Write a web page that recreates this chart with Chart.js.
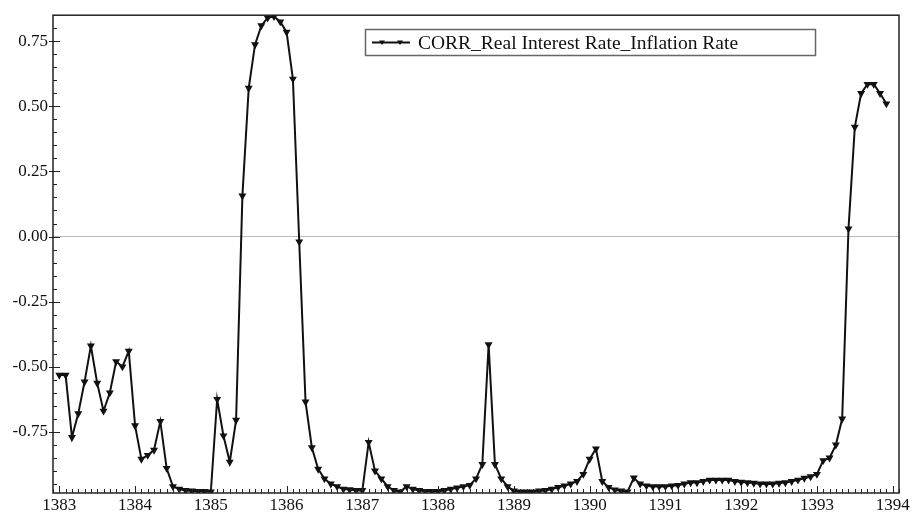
<!DOCTYPE html>
<html>
<head>
<meta charset="utf-8">
<script src="https://cdn.jsdelivr.net/npm/chart.js@4"></script>
<style>
  html, body { margin: 0; padding: 0; background: #fff; }
  canvas { display: block; }
</style>
</head>
<body>
<canvas id="corr" width="912" height="518"></canvas>
<script>
// monthly series, starting 1383 month 1
const startYear = 1383;
const seriesName = 'CORR_Real Interest Rate_Inflation Rate';
const corr = [
  // 1383
  -0.532, -0.532, -0.771, -0.680, -0.558, -0.420, -0.563, -0.670, -0.600, -0.480, -0.500, -0.440,
  // 1384
  -0.726, -0.855, -0.840, -0.820, -0.710, -0.890, -0.960, -0.970, -0.975, -0.977, -0.978, -0.978,
  // 1385
  -0.980, -0.625, -0.765, -0.866, -0.705, 0.156, 0.570, 0.737, 0.810, 0.840, 0.845, 0.825,
  // 1386
  0.785, 0.605, -0.020, -0.635, -0.810, -0.893, -0.930, -0.950, -0.960, -0.970, -0.972, -0.975,
  // 1387
  -0.975, -0.790, -0.900, -0.930, -0.960, -0.975, -0.980, -0.960, -0.970, -0.975, -0.978, -0.978,
  // 1388
  -0.978, -0.975, -0.970, -0.965, -0.960, -0.955, -0.930, -0.875, -0.415, -0.875, -0.930, -0.960,
  // 1389
  -0.977, -0.980, -0.980, -0.980, -0.977, -0.975, -0.970, -0.963, -0.957, -0.950, -0.940, -0.913,
  // 1390
  -0.855, -0.815, -0.940, -0.963, -0.973, -0.977, -0.980, -0.927, -0.950, -0.957, -0.960, -0.960,
  // 1391
  -0.960, -0.957, -0.955, -0.950, -0.945, -0.945, -0.940, -0.935, -0.935, -0.935, -0.935, -0.940,
  // 1392
  -0.943, -0.945, -0.947, -0.950, -0.950, -0.950, -0.947, -0.945, -0.940, -0.935, -0.928, -0.922,
  // 1393
  -0.913, -0.860, -0.850, -0.800, -0.700, 0.030, 0.420, 0.550, 0.585, 0.585, 0.550, 0.510
];
// tick labels
const yearTicks = [1383, 1384, 1385, 1386, 1387, 1388, 1389, 1390, 1391, 1392, 1393, 1394];
const valueTicks = [-0.75, -0.50, -0.25, 0.00, 0.25, 0.50, 0.75];

const serif = '"Liberation Serif", "DejaVu Serif", serif';

// points on a time axis measured in years
const points = corr.map((v, i) => ({ x: startYear + i / 12, y: v }));

// frame, minor ticks and the boxed legend
const framePlugin = {
  id: 'frame',
  afterDraw(chart) {
    const ctx = chart.ctx;
    const a = chart.chartArea;
    const xs = chart.scales.x;
    const ys = chart.scales.y;
    ctx.save();
    ctx.strokeStyle = '#222';
    ctx.lineWidth = 1.5;
    ctx.strokeRect(a.left, a.top, a.right - a.left, a.bottom - a.top);

    // x ticks, one per month
    ctx.lineWidth = 1;
    for (let m = -1; m <= 134; m++) {
      const px = xs.getPixelForValue(startYear + m / 12);
      if (px < a.left || px > a.right) continue;
      const len = (m % 12 === 0) ? 7 : 4;
      ctx.beginPath();
      ctx.moveTo(Math.round(px) + 0.5, a.bottom);
      ctx.lineTo(Math.round(px) + 0.5, a.bottom - len);
      ctx.stroke();
    }
    // y ticks, every 0.05
    for (let k = -19; k <= 17; k++) {
      const v = k * 0.05;
      const py = ys.getPixelForValue(v);
      if (py < a.top || py > a.bottom) continue;
      const major = (k % 5 === 0);
      ctx.beginPath();
      ctx.moveTo(a.left - (major ? 4 : 0), Math.round(py) + 0.5);
      ctx.lineTo(a.left + (major ? 7 : 4), Math.round(py) + 0.5);
      ctx.stroke();
    }

    // legend box
    const bx = 365, by = 29, bw = 450, bh = 26;
    ctx.strokeStyle = '#666';
    ctx.lineWidth = 1.5;
    ctx.strokeRect(bx + 0.5, by + 0.5, bw, bh);
    const ly = by + bh / 2 + 0.5;
    ctx.strokeStyle = '#111';
    ctx.lineWidth = 1.8;
    ctx.beginPath();
    ctx.moveTo(372, ly);
    ctx.lineTo(410, ly);
    ctx.stroke();
    ctx.fillStyle = '#111';
    [382, 400].forEach(mx => {
      ctx.beginPath();
      ctx.moveTo(mx - 3, ly - 2);
      ctx.lineTo(mx + 3, ly - 2);
      ctx.lineTo(mx, ly + 2.5);
      ctx.closePath();
      ctx.fill();
    });
    ctx.font = '19.5px ' + serif;
    ctx.textBaseline = 'middle';
    ctx.textAlign = 'left';
    ctx.fillText(seriesName, 418, ly + 1);
    ctx.restore();
  }
};

const ctx = document.getElementById('corr').getContext('2d');
const corrChart = new Chart(ctx, {
  type: 'line',
  data: {
    datasets: [{
      label: seriesName,
      data: points,
      borderColor: '#111',
      backgroundColor: '#111',
      borderWidth: 2,
      pointStyle: 'triangle',
      rotation: 180,
      pointRadius: 2.6,
      pointHoverRadius: 2.6,
      tension: 0
    }]
  },
  options: {
    responsive: false,
    animation: false,
    layout: { padding: { left: 0, right: 13, top: 10, bottom: 0 } },
    plugins: {
      legend: { display: false },
      tooltip: { enabled: false }
    },
    scales: {
      x: {
        type: 'linear',
        min: startYear - 1 / 12,
        max: 1394 + 1 / 12,
        afterBuildTicks: s => { s.ticks = yearTicks.map(v => ({ value: v })); },
        afterFit: s => { s.height = 25; },
        grid: { display: false, drawTicks: false },
        border: { display: false },
        ticks: {
          color: '#111',
          font: { family: serif, size: 17 },
          padding: 2,
          maxRotation: 0,
          autoSkip: false,
          callback: v => String(v)
        }
      },
      y: {
        min: -0.985,
        max: 0.85,
        afterBuildTicks: s => { s.ticks = valueTicks.map(v => ({ value: v })); },
        afterFit: s => { s.width = 53; },
        grid: {
          drawTicks: false,
          color: c => (c.tick && Math.abs(c.tick.value) < 1e-9) ? '#bbb' : 'rgba(0,0,0,0)',
          lineWidth: 1
        },
        border: { display: false },
        ticks: {
          color: '#111',
          font: { family: serif, size: 17 },
          padding: 5,
          autoSkip: false,
          callback: v => v.toFixed(2)
        }
      }
    }
  },
  plugins: [framePlugin]
});
</script>
</body>
</html>
